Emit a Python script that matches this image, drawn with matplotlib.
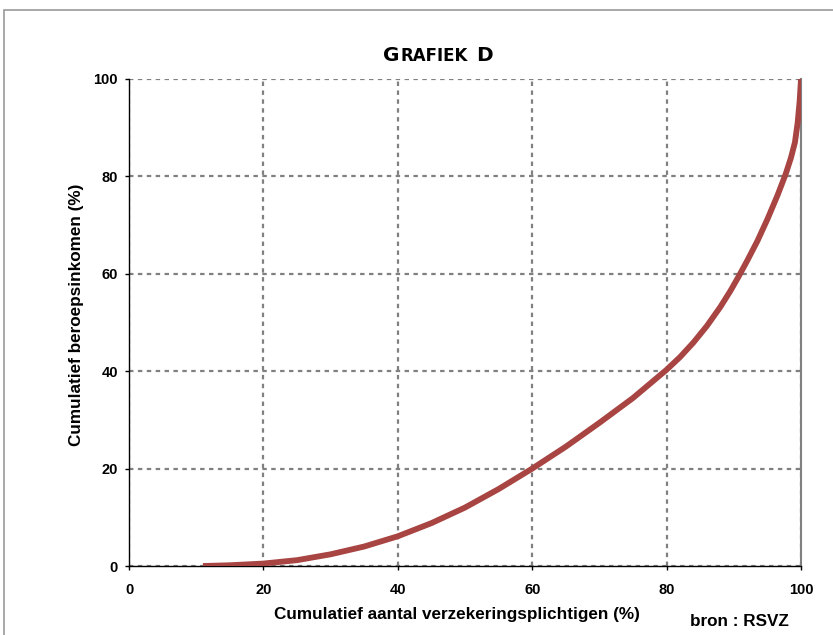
import matplotlib.pyplot as plt
from matplotlib.patches import Rectangle

plt.rcParams['font.family'] = ['Liberation Sans', 'DejaVu Sans']

# cumulative share of insured persons (%) vs cumulative professional income (%)
pct_persons = [11, 15, 20, 25, 30, 35, 40, 45, 50, 55, 60, 65, 70, 75, 80,
               82, 84, 86, 88, 89.5, 90.7, 92, 93.5, 95, 96.5, 97.7, 98.5,
               99.1, 99.5, 99.8, 100]
pct_income = [0, 0.15, 0.5, 1.2, 2.4, 4.0, 6.1, 8.8, 12.0, 15.8, 20.0, 24.5,
              29.4, 34.5, 40.3, 42.9, 45.9, 49.3, 53.2, 56.5, 59.4, 62.7, 66.7,
              71.2, 76.1, 80.4, 83.8, 87.0, 91.0, 95.5, 100]

x_ticks = [0, 20, 40, 60, 80, 100]
y_ticks = [0, 20, 40, 60, 80, 100]

W, H = 833, 635
fig = plt.figure(figsize=(W / 100, H / 100), dpi=100)

# outer gray frame of the original sheet
fig.patches.append(Rectangle((4 / W, -0.1), 1.2, (H - 10) / H + 0.1,
                             transform=fig.transFigure, fill=False,
                             edgecolor='#9a9a9a', linewidth=1.2))

ax = fig.add_axes([129 / W, (H - 566) / H, (801 - 129) / W, (566 - 79) / H])
ax.plot(pct_persons, pct_income, color='#a84442', linewidth=4.2,
        solid_capstyle='butt', solid_joinstyle='round', zorder=3)

ax.set_xlim(0, 100)
ax.set_ylim(0, 100)
ax.set_xticks(x_ticks)
ax.set_yticks(y_ticks)
ax.tick_params(length=3, width=1, labelsize=10.5, pad=5)
for lab in ax.get_xticklabels() + ax.get_yticklabels():
    lab.set_fontweight('bold')
ax.tick_params(axis='x', pad=9)

ax.grid(True, color='#808080', linestyle=(0, (2, 2)), linewidth=1.6, zorder=1)
ax.spines['top'].set_visible(False)
ax.spines['right'].set_color('#808080')
ax.spines['right'].set_linewidth(1.5)
for s in ['left', 'bottom']:
    ax.spines[s].set_color('black')
    ax.spines[s].set_linewidth(1.0)
ax.set_axisbelow(True)

# title in a wide small-caps style
tfont = ['DejaVu Sans']
t1 = fig.text(383 / W, (H - 61) / H, 'G', fontsize=14.5, fontweight='bold',
              family=tfont, ha='left', va='baseline')
t2 = ax.annotate('RAFIEK', xy=(1, 0), xycoords=t1, fontsize=12,
                 fontweight='bold', family=tfont, ha='left', va='bottom',
                 xytext=(1, 0), textcoords='offset points')
ax.annotate('D', xy=(1, 0), xycoords=t2, fontsize=14.5, fontweight='bold',
            family=tfont, ha='left', va='bottom', xytext=(6, 0),
            textcoords='offset points')

fig.text(457 / W, (H - 614) / H, 'Cumulatief aantal verzekeringsplichtigen (%)',
         fontsize=12.3, fontweight='bold', ha='center', va='center')
fig.text(77 / W, (H - 315) / H, 'Cumulatief beroepsinkomen (%)',
         fontsize=12.3, fontweight='bold', ha='center', va='center', rotation=90)
fig.text(739 / W, (H - 621) / H, 'bron : RSVZ', fontsize=12.3, fontweight='bold',
         ha='center', va='center')

fig.savefig('out.png', dpi=100)
